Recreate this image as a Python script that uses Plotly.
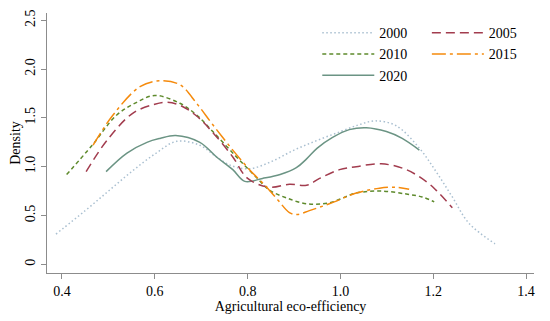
import plotly.graph_objects as go

# Kernel density curves
x2000 = [0.387, 0.45, 0.50, 0.55, 0.60, 0.647, 0.697, 0.733, 0.765, 0.805, 0.85, 0.90, 0.95, 1.00, 1.04, 1.075, 1.12, 1.17, 1.206, 1.241, 1.277, 1.333]
y2000 = [0.31, 0.55, 0.75, 0.95, 1.13, 1.26, 1.22, 1.10, 1.01, 0.98, 1.05, 1.17, 1.27, 1.36, 1.43, 1.47, 1.42, 1.19, 0.95, 0.69, 0.42, 0.21]

x2005 = [0.452, 0.497, 0.553, 0.60, 0.626, 0.654, 0.69, 0.725, 0.768, 0.80, 0.847, 0.89, 0.927, 0.955, 0.998, 1.034, 1.088, 1.142, 1.187, 1.206, 1.241]
y2005 = [0.95, 1.27, 1.55, 1.64, 1.66, 1.63, 1.52, 1.35, 1.10, 0.88, 0.79, 0.82, 0.81, 0.88, 0.97, 1.00, 1.03, 0.97, 0.84, 0.76, 0.58]

x2010 = [0.41, 0.465, 0.518, 0.561, 0.60, 0.654, 0.69, 0.725, 0.776, 0.819, 0.847, 0.884, 0.927, 0.976, 1.034, 1.088, 1.142, 1.176, 1.202]
y2010 = [0.92, 1.22, 1.53, 1.66, 1.73, 1.65, 1.53, 1.36, 1.10, 0.89, 0.76, 0.68, 0.62, 0.63, 0.73, 0.75, 0.72, 0.69, 0.64]

x2015 = [0.467, 0.51, 0.568, 0.611, 0.654, 0.69, 0.725, 0.768, 0.804, 0.841, 0.865, 0.89, 0.907, 0.933, 0.976, 1.034, 1.084, 1.12, 1.148]
y2015 = [1.22, 1.53, 1.82, 1.88, 1.84, 1.65, 1.43, 1.17, 0.97, 0.79, 0.66, 0.53, 0.51, 0.55, 0.62, 0.73, 0.78, 0.79, 0.77]

x2020 = [0.495, 0.54, 0.583, 0.611, 0.645, 0.697, 0.733, 0.768, 0.794, 0.832, 0.870, 0.905, 0.927, 0.95, 0.983, 1.019, 1.056, 1.099, 1.133, 1.17]
y2020 = [0.95, 1.14, 1.25, 1.29, 1.32, 1.25, 1.10, 0.97, 0.85, 0.88, 0.92, 0.99, 1.08, 1.19, 1.30, 1.38, 1.40, 1.36, 1.29, 1.17]

x_ticks = [0.4, 0.6, 0.8, 1.0, 1.2, 1.4]
x_tick_labels = ["0.4", "0.6", "0.8", "1.0", "1.2", "1.4"]
y_ticks = [0, 0.5, 1.0, 1.5, 2.0, 2.5]
y_tick_labels = ["0", "0.5", "1.0", "1.5", "2.0", "2.5"]

FONT = "Liberation Serif, Times New Roman, serif"

fig = go.Figure()

def add(x, y, name, color, dash, legend):
    fig.add_trace(go.Scatter(
        x=x, y=y, name=name, mode="lines",
        line=dict(color=color, width=1.5, dash=dash, shape="spline", smoothing=1.0),
        legend=legend,
    ))

add(x2000, y2000, "2000", "#a9bfd0", "1.5px,2.5px", "legend")
add(x2010, y2010, "2010", "#5e8a2c", "4px,3px", "legend")
add(x2020, y2020, "2020", "#6b9484", "solid", "legend")
add(x2005, y2005, "2005", "#a23c4e", "9px,5px", "legend2")
add(x2015, y2015, "2015", "#f58a0c", "14px,4px,3px,4px", "legend2")

axis_common = dict(
    showgrid=False, zeroline=False, showline=True, linecolor="#8c8c8c", linewidth=1.2,
    ticks="outside", ticklen=5, tickcolor="#8c8c8c", tickwidth=1.2, automargin=False,
    tickfont=dict(family=FONT, size=14, color="black"),
)

# page body has an 8px default margin, so the figure is sized to fit the 550x321 window
fig.update_layout(
    width=542, height=313,
    margin=dict(l=39, r=16, t=5, b=48),
    paper_bgcolor="white", plot_bgcolor="white",
    font=dict(family=FONT, size=14, color="black"),
    xaxis=dict(range=[0.3677, 1.417], tickvals=x_ticks, ticktext=x_tick_labels,
               title=dict(text="Agricultural eco-efficiency", font=dict(family=FONT, size=14), standoff=2),
               **axis_common),
    yaxis=dict(range=[-0.089, 2.575], tickvals=y_ticks, ticktext=y_tick_labels, tickangle=-90,
               title=dict(text="Density", font=dict(family=FONT, size=14), standoff=4),
               **axis_common),
    legend=dict(x=0.555, y=0.984, xanchor="left", yanchor="top", bgcolor="rgba(0,0,0,0)",
                font=dict(family=FONT, size=14), tracegroupgap=0, itemwidth=52),
    legend2=dict(x=0.78, y=0.984, xanchor="left", yanchor="top", bgcolor="rgba(0,0,0,0)",
                 font=dict(family=FONT, size=14), tracegroupgap=0, itemwidth=52),
)

fig.write_html("out.html")
